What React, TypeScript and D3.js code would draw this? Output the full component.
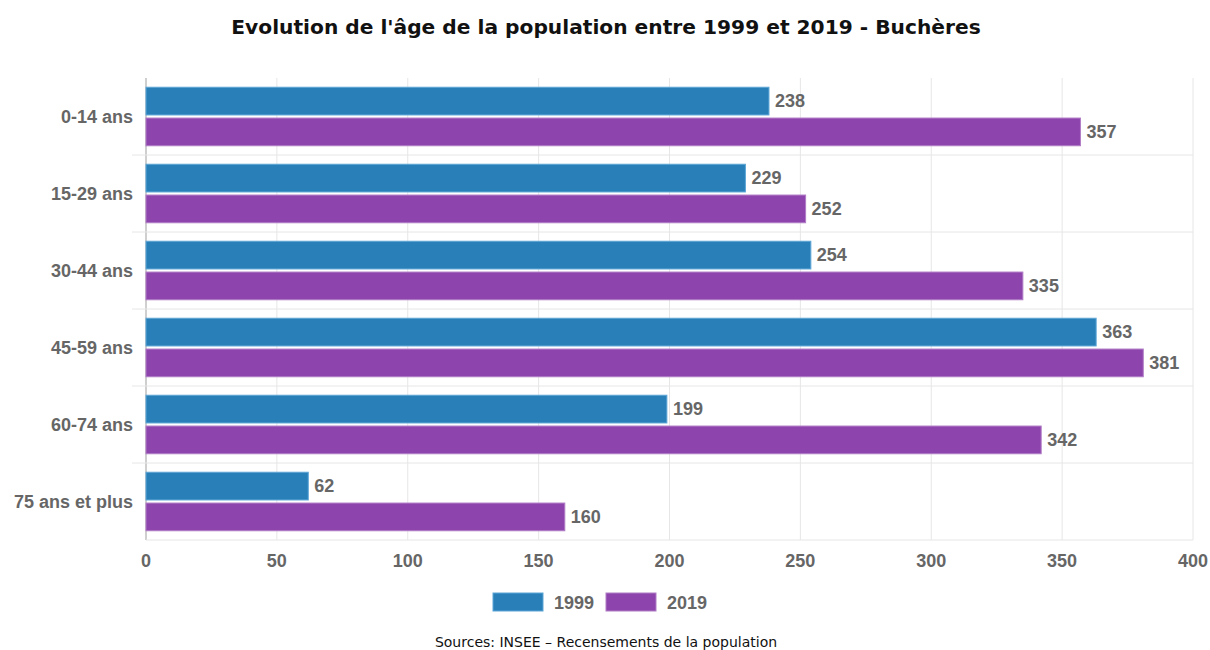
import React from "react";
import * as d3 from "d3";

const categories = ["0-14 ans", "15-29 ans", "30-44 ans", "45-59 ans", "60-74 ans", "75 ans et plus"];
const seriesNames = ["1999", "2019"];
const values1999 = [238, 229, 254, 363, 199, 62];
const values2019 = [357, 252, 335, 381, 342, 160];
const xTicks = [0, 50, 100, 150, 200, 250, 300, 350, 400];
const colors = ["#2980b9", "#8e44ad"];
const borders = ["#5da5d6", "#b07cc6"];
const title = "Evolution de l'âge de la population entre 1999 et 2019 - Buchères";
const source = "Sources: INSEE – Recensements de la population";

export default function App() {
  const W = 1210, H = 650;
  const left = 146, right = 1193, top = 78, bottom = 540;
  const x = d3.scaleLinear().domain([0, 400]).range([left, right]);
  const y = d3.scaleBand<string>().domain(categories).range([top, bottom]).padding(0);
  const bw = y.bandwidth();
  const catW = bw * 0.8;
  const barSlot = catW / 2;
  const barH = barSlot * 0.9;
  const series = [values1999, values2019];
  const labelFont = "Liberation Sans, Arial, sans-serif";
  const grey = "#666666";
  const fs = 18;

  return (
    <svg width={W} height={H} style={{ position: "absolute", left: 0, top: 0, background: "#fff" }}>
      <text x={606} y={34} textAnchor="middle" fontFamily="DejaVu Sans, Verdana, sans-serif" fontWeight="bold" fontSize={20.2} fill="#111">{title}</text>

      {xTicks.map((t) => (
        <line key={"vg" + t} x1={x(t)} x2={x(t)} y1={top} y2={bottom} stroke={t === 0 ? "#cfcfcf" : "#e6e6e6"} strokeWidth={t === 0 ? 2 : 1} />
      ))}
      {categories.slice(1).map((c) => (
        <line key={"hg" + c} x1={132} x2={right} y1={y(c)!} y2={y(c)!} stroke="#e6e6e6" strokeWidth={1} />
      ))}
      <line x1={left} x2={right} y1={bottom} y2={bottom} stroke="#e6e6e6" strokeWidth={1} />

      {categories.map((c, i) => {
        const start = y(c)! + (bw - catW) / 2;
        return series.map((vals, s) => {
          const yy = start + s * barSlot + (barSlot - barH) / 2;
          const w = x(vals[i]) - x(0);
          return (
            <g key={c + s}>
              <rect x={x(0)} y={yy} width={w} height={barH} fill={colors[s]} stroke={borders[s]} strokeWidth={1} />
              <text x={x(vals[i]) + 6} y={yy + barH / 2} dominantBaseline="central" fontFamily={labelFont} fontWeight="bold" fontSize={fs} fill={grey}>{vals[i]}</text>
            </g>
          );
        });
      })}

      {categories.map((c) => (
        <text key={"yl" + c} x={133} y={y(c)! + bw / 2} textAnchor="end" dominantBaseline="central" fontFamily={labelFont} fontWeight="bold" fontSize={fs} fill={grey}>{c}</text>
      ))}

      {xTicks.map((t) => (
        <text key={"xl" + t} x={x(t)} y={561} textAnchor="middle" dominantBaseline="central" fontFamily={labelFont} fontWeight="bold" fontSize={fs} fill={grey}>{t}</text>
      ))}

      {seriesNames.map((n, i) => {
        const bx = i === 0 ? 493 : 606;
        return (
          <g key={"lg" + n}>
            <rect x={bx} y={593} width={50} height={18} fill={colors[i]} stroke={borders[i]} strokeWidth={1} />
            <text x={bx + 61} y={602.5} dominantBaseline="central" fontFamily={labelFont} fontWeight="bold" fontSize={fs} fill={grey}>{n}</text>
          </g>
        );
      })}

      <text x={606} y={647} textAnchor="middle" fontFamily="DejaVu Sans, Verdana, sans-serif" fontSize={14} fill="#111">{source}</text>
    </svg>
  );
}
